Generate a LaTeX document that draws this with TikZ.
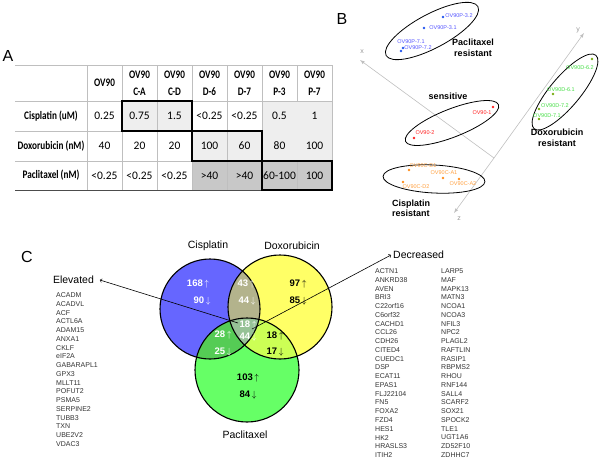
\documentclass[tikz,border=0pt]{standalone}
\usepackage{fontspec}
\setmainfont{Liberation Sans}
\newfontfamily\calfont{Carlito}
\newfontfamily\calnarrow{Carlito}[FakeStretch=0.8]
\usepackage{tikz}
\usetikzlibrary{arrows,positioning}

\definecolor{cisblue}{HTML}{6666FF}
\definecolor{doxyellow}{HTML}{FFFF66}
\definecolor{pacgreen}{HTML}{66FF66}
\definecolor{cisdox}{HTML}{B3B38C}
\definecolor{cispac}{HTML}{55CC55}
\definecolor{doxpac}{HTML}{CCFF55}
\definecolor{allthree}{HTML}{96C296}
\definecolor{lightcell}{HTML}{EEEEEE}
\definecolor{darkcell}{HTML}{C8C8C8}
\definecolor{gridgray}{HTML}{BFBFBF}
\definecolor{ptlabel}{HTML}{5555FF}
\definecolor{ptdot}{HTML}{2255EE}
\definecolor{sensred}{HTML}{FF2222}
\definecolor{doxlabel}{HTML}{44DD44}
\definecolor{doxdot}{HTML}{77AA11}
\definecolor{cislabel}{HTML}{FFA040}
\definecolor{cisdot}{HTML}{FF8C1A}

\tikzset{
    panellabel/.style = {
        font=\fontsize{16}{16}\selectfont,
        inner sep=0pt
    },
    headcell/.style = {
        font=\calnarrow\bfseries\fontsize{11.5}{17}\selectfont,
        align=center,
        inner sep=0pt
    },
    valcell/.style = {
        font=\calfont\fontsize{11.5}{13}\selectfont,
        inner sep=0pt
    },
    gridline/.style = {
        draw=gridgray,
        line width=0.6pt
    },
    thickbox/.style = {
        draw=black,
        line width=1.5pt
    },
    sampledot/.style = {
        circle,
        inner sep=0pt,
        minimum size=2.6pt
    },
    samplelabel/.style = {
        font=\fontsize{5.5}{6}\selectfont,
        inner sep=0pt
    },
    groupname/.style = {
        font=\bfseries\fontsize{9}{10.5}\selectfont,
        align=center,
        inner sep=0pt
    },
    groupring/.style = {
        draw=black,
        line width=0.8pt
    },
    axisline/.style = {
        draw=black!25,
        line width=0.6pt,
        -latex
    },
    axislabel/.style = {
        font=\fontsize{7}{7}\selectfont,
        text=black!40,
        inner sep=0pt
    },
    vennnum/.style = {
        font=\bfseries\fontsize{9.5}{10}\selectfont,
        inner sep=0pt
    },
    vennname/.style = {
        font=\fontsize{10.5}{12}\selectfont,
        inner sep=0pt
    },
    genelist/.style = {
        font=\fontsize{7}{8.76}\selectfont,
        align=left,
        text=black!80,
        inner sep=0pt
    },
    changelabel/.style = {
        font=\fontsize{10.5}{12}\selectfont,
        inner sep=2pt
    }
}

\begin{document}
\begin{tikzpicture}[x=1pt, y=-1pt]
    \useasboundingbox (0,0) rectangle (600,464);

    % A: IC50 table
    \node [panellabel] (pa) at (8,56) {A};
    \fill [lightcell] (122,101) rectangle (192,131);
    \fill [lightcell] (192,131) rectangle (262,161);
    \fill [darkcell] (192,161) rectangle (332,190);
    \draw [gridline] (15,65) -- (332,65) (15,101) -- (332,101) (15,131) -- (332,131) (15,161) -- (332,161);
    \draw [gridline] (87,65) -- (87,190) (122,65) -- (122,190) (157,65) -- (157,190) (192,65) -- (192,190)
        (227,65) -- (227,190) (262,65) -- (262,190) (297,65) -- (297,190) (332,65) -- (332,190);
    \fill [lightcell] (262.5,101.5) rectangle (331.5,160.5);
    \draw [black!70, line width=0.8pt] (15,190) -- (332,190);
    \draw [thickbox] (122,101) rectangle (192,131);
    \draw [thickbox] (192,131) rectangle (262,161);
    \draw [thickbox] (262,161) rectangle (332,190);

    \node [headcell] (hov) at (104.5,83) {OV90};
    \node [headcell] (hca) at (139.5,83.5) {OV90\\C-A};
    \node [headcell] (hcd) at (174.5,83.5) {OV90\\C-D};
    \node [headcell] (hd6) at (209.5,83.5) {OV90\\D-6};
    \node [headcell] (hd7) at (244.5,83.5) {OV90\\D-7};
    \node [headcell] (hp3) at (279.5,83.5) {OV90\\P-3};
    \node [headcell] (hp7) at (314.5,83.5) {OV90\\P-7};

    \node [headcell] (rcis) at (51,116) {Cisplatin (uM)};
    \node [headcell] (rdox) at (51,146) {Doxorubicin (nM)};
    \node [headcell] (rpac) at (51,175.5) {Paclitaxel (nM)};

    \node [valcell] (cis1) at (104.5,116) {0.25};
    \node [valcell] (cis2) at (139.5,116) {0.75};
    \node [valcell] (cis3) at (174.5,116) {1.5};
    \node [valcell] (cis4) at (209.5,116) {<0.25};
    \node [valcell] (cis5) at (244.5,116) {<0.25};
    \node [valcell] (cis6) at (279.5,116) {0.5};
    \node [valcell] (cis7) at (314.5,116) {1};
    \node [valcell] (dox1) at (104.5,146) {40};
    \node [valcell] (dox2) at (139.5,146) {20};
    \node [valcell] (dox3) at (174.5,146) {20};
    \node [valcell] (dox4) at (209.5,146) {100};
    \node [valcell] (dox5) at (244.5,146) {60};
    \node [valcell] (dox6) at (279.5,146) {80};
    \node [valcell] (dox7) at (314.5,146) {100};
    \node [valcell] (pac1) at (104.5,175.5) {<0.25};
    \node [valcell] (pac2) at (139.5,175.5) {<0.25};
    \node [valcell] (pac3) at (174.5,175.5) {<0.25};
    \node [valcell] (pac4) at (209.5,175.5) {>40};
    \node [valcell] (pac5) at (244.5,175.5) {>40};
    \node [valcell] (pac6) at (279.5,175.5) {60-100};
    \node [valcell] (pac7) at (314.5,175.5) {100};

    % B: PCA plot
    \node [panellabel] (pb) at (342,19) {B};
    \coordinate (origin) at (494,158);
    \coordinate (xend) at (360,60);
    \coordinate (yend) at (584,33);
    \coordinate (zend) at (454,213);
    \draw [axisline] (origin) -- (xend);
    \draw [axisline] (origin) -- (yend);
    \draw [axisline] (origin) -- (zend);
    \node [axislabel] (xname) at (362,52) {x};
    \node [axislabel] (yname) at (578,30) {y};
    \node [axislabel] (zname) at (459,219) {z};

    \coordinate (pacring) at (432,31);
    \coordinate (sensring) at (452,123);
    \coordinate (doxring) at (565,92);
    \coordinate (cisring) at (434,179);
    \draw [groupring, rotate around={28:(pacring)}] (pacring) ellipse [x radius=52, y radius=17];
    \draw [groupring, rotate around={21.5:(sensring)}] (sensring) ellipse [x radius=50, y radius=14];
    \draw [groupring, rotate around={50:(doxring)}] (doxring) ellipse [x radius=48, y radius=15];
    \draw [groupring, rotate around={-3:(cisring)}] (cisring) ellipse [x radius=51, y radius=14];

    \node [sampledot, fill=ptdot] (p32) at (443,17) {};
    \node [sampledot, fill=ptdot] (p31) at (424,28) {};
    \node [sampledot, fill=ptdot] (p71) at (403,48) {};
    \node [sampledot, fill=ptdot] (p72) at (401,51) {};
    \node [samplelabel, text=ptlabel] (lp32) at (459,16) {OV90P-3.2};
    \node [samplelabel, text=ptlabel] (lp31) at (443,28) {OV90P-3.1};
    \node [samplelabel, text=ptlabel] (lp71) at (411,42) {OV90P-7.1};
    \node [samplelabel, text=ptlabel] (lp72) at (418,48) {OV90P-7.2};

    \node [sampledot, fill=sensred] (s1) at (493,107) {};
    \node [sampledot, fill=sensred] (s2) at (414,138) {};
    \node [samplelabel, text=sensred] (ls1) at (482,113) {OV90-1};
    \node [samplelabel, text=sensred] (ls2) at (425,133) {OV90-2};

    \node [sampledot, fill=doxdot] (d62) at (592,59) {};
    \node [sampledot, fill=doxdot] (d61) at (553,94) {};
    \node [sampledot, fill=doxdot] (d72) at (539,109) {};
    \node [sampledot, fill=doxdot] (d71) at (539,119) {};
    \node [samplelabel, text=doxlabel] (ld62) at (580,68) {OV90D-6.2};
    \node [samplelabel, text=doxlabel] (ld61) at (561,90) {OV90D-6.1};
    \node [samplelabel, text=doxlabel] (ld72) at (555,106) {OV90D-7.2};
    \node [samplelabel, text=doxlabel] (ld71) at (547,116) {OV90D-7.1};

    \node [sampledot, fill=cisdot] (cd1) at (409,170) {};
    \node [sampledot, fill=cisdot] (ca1) at (443,178) {};
    \node [sampledot, fill=cisdot] (ca2) at (459,179) {};
    \node [sampledot, fill=cisdot] (cd2) at (403,182) {};
    \node [samplelabel, text=cislabel] (lcd1) at (423,166) {OV90C-D1};
    \node [samplelabel, text=cislabel] (lca1) at (444,173) {OV90C-A1};
    \node [samplelabel, text=cislabel] (lca2) at (463,184) {OV90C-A2};
    \node [samplelabel, text=cislabel] (lcd2) at (416,187) {OV90C-D2};

    \node [groupname] (gpac) at (473,48) {Paclitaxel\\resistant};
    \node [groupname] (gsens) at (448,96) {sensitive};
    \node [groupname] (gdox) at (557,138) {Doxorubicin\\resistant};
    \node [groupname, align=left, anchor=west] (gcis) at (392,208.5) {Cisplatin\\resistant};

    % C: Venn diagram
    \node [panellabel] (pc) at (27,257) {C};
    \coordinate (cisc) at (210,309);
    \coordinate (doxc) at (280,307);
    \coordinate (pacc) at (247,370);
    \fill [cisblue] (cisc) circle [radius=50];
    \fill [doxyellow] (doxc) circle [radius=52];
    \fill [pacgreen] (pacc) circle [radius=52];
    \begin{scope}
        \clip (doxc) circle [radius=52];
        \fill [doxpac] (pacc) circle [radius=52];
    \end{scope}
    \begin{scope}
        \clip (cisc) circle [radius=50];
        \fill [cisdox] (doxc) circle [radius=52];
        \fill [cispac] (pacc) circle [radius=52];
        \clip (doxc) circle [radius=52];
        \fill [allthree] (pacc) circle [radius=52];
    \end{scope}
    \draw [line width=1.1pt] (cisc) circle [radius=50];
    \draw [line width=1.1pt] (doxc) circle [radius=52];
    \draw [line width=1.1pt] (pacc) circle [radius=52];

    \node [vennname] (ncis) at (208,246) {Cisplatin};
    \node [vennname] (ndox) at (292,246) {Doxorubicin};
    \node [vennname] (npac) at (245,435) {Paclitaxel};

    \node [changelabel, anchor=west, outer sep=4pt] (elev) at (47,280) {Elevated};
    \node [changelabel, anchor=west] (decr) at (391,255) {Decreased};
    \coordinate (elevfrom) at (238,323);
    \coordinate (decrfrom) at (252,329);
    \draw [->, line width=0.6pt] (elevfrom) -- (elev.east);
    \draw [->, line width=0.6pt] (decrfrom) -- (decr.west);

    \node [vennnum, text=white] (v1u) at (198,284) {168\,$\uparrow$};
    \node [vennnum, text=white] (v1d) at (202,301) {90\,$\downarrow$};
    \node [vennnum, text=white] (v2u) at (246,284) {43\,$\uparrow$};
    \node [vennnum, text=white] (v2d) at (247,301) {44\,$\downarrow$};
    \node [vennnum] (v3u) at (298,284) {97\,$\uparrow$};
    \node [vennnum] (v3d) at (298,301) {85\,$\downarrow$};
    \node [vennnum, text=white] (v4u) at (248,325) {18\,$\uparrow$};
    \node [vennnum, text=white] (v4d) at (248,337) {44\,$\downarrow$};
    \node [vennnum, text=white] (v5u) at (223,335) {28\,$\uparrow$};
    \node [vennnum, text=white] (v5d) at (223,352) {25\,$\downarrow$};
    \node [vennnum] (v6u) at (275,336) {18\,$\uparrow$};
    \node [vennnum] (v6d) at (275,352) {17\,$\downarrow$};
    \node [vennnum] (v7u) at (248,378) {103\,$\uparrow$};
    \node [vennnum] (v7d) at (248,395) {84\,$\downarrow$};

    \node [genelist, anchor=north west] (uplist) at (56,292.5) {ACADM\\ACADVL\\ACF\\ACTL6A\\ADAM15\\ANXA1\\CKLF\\eIF2A\\GABARAPL1\\GPX3\\MLLT11\\POFUT2\\PSMA5\\SERPINE2\\TUBB3\\TXN\\UBE2V2\\VDAC3};
    \node [genelist, anchor=north west] (downlist) at (375,268.5) {ACTN1\\ANKRD38\\AVEN\\BRI3\\C22orf16\\C6orf32\\CACHD1\\CCL26\\CDH26\\CITED4\\CUEDC1\\DSP\\ECAT11\\EPAS1\\FLJ22104\\FN5\\FOXA2\\FZD4\\HES1\\HK2\\HRASLS3\\ITIH2};
    \node [genelist, anchor=north west] (downlisttwo) at (441,268.5) {LARP5\\MAF\\MAPK13\\MATN3\\NCOA1\\NCOA3\\NFIL3\\NPC2\\PLAGL2\\RAFTLIN\\RASIP1\\RBPMS2\\RHOU\\RNF144\\SALL4\\SCARF2\\SOX21\\SPOCK2\\TLE1\\UGT1A6\\ZD52F10\\ZDHHC7};
\end{tikzpicture}
\end{document}
